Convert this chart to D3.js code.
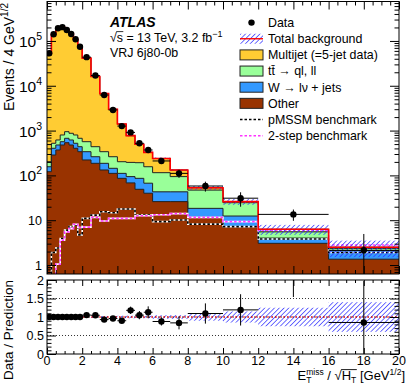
<!DOCTYPE html>
<html>
<head>
<meta charset="utf-8">
<script src="https://cdn.jsdelivr.net/npm/d3@7"></script>
<style>
  body { margin: 0; background: #fff; }
  text { font-family: "Liberation Sans", Arial, Helvetica, sans-serif; fill: #000; }
</style>
</head>
<body>
<svg id="chart" width="407" height="386"></svg>
<script>
// bin edges, ETmiss/sqrt(HT) in GeV^1/2
var binEdges = [0, 0.25, 0.5, 0.75, 1, 1.25, 1.5, 1.75, 2, 2.5, 3, 3.5, 4, 4.5, 5, 5.5, 6, 7, 8, 10, 12, 16, 20];

// data, events / 4 GeV^1/2
var dataVals = [53000, 141000, 192000, 203000, 176000, 143000, 109000, 74000, 43500, 16900, 6200, 2880, 1260, 910, 520, 369, 210, 111, 58, 31, 13.5, 2.13];
var dataErr = [300, 500, 600, 600, 550, 500, 450, 380, 300, 180, 110, 80, 60, 77, 55, 52, 26, 23, 14.5, 11, 3.8, 2.8];

// background components (stacked bottom to top: other, wjets, ttbar, multijet)
var other = [121, 285, 369, 477, 537, 477, 403, 338, 221, 186, 132, 111, 86, 68, 49, 40, 26, 26, 11.6, 7.2, 3.05, 1.35];
var wjets = [35, 118, 108, 88, 136, 140, 118, 99, 117, 75, 54, 33, 25, 26, 37, 27, 17, 17, 6.8, 5.2, 0.95, 0.75];
var ttbar = [46, 118, 140, 233, 272, 253, 277, 236, 227, 176, 152, 117, 91, 101, 106, 89, 72, 51, 28.6, 12.2, 1.5, 0.25];
var multijet = [52800, 140500, 191400, 202200, 175100, 142100, 108200, 73300, 40800, 15700, 6330, 2740, 1200, 576, 303, 171, 124, 38, 6, 1.4, 0.8, 0.15];
// relative uncertainty on the total background
var bkgRelUnc = [0.015, 0.015, 0.015, 0.015, 0.015, 0.015, 0.015, 0.015, 0.025, 0.025, 0.025, 0.025, 0.035, 0.035, 0.035, 0.035, 0.05, 0.05, 0.1, 0.15, 0.25, 0.4];

// signal benchmarks
var pmssm = [0.5, 1.9, 2.4, 3.9, 6.0, 7.2, 7.8, 4.7, 11, 13, 15.5, 14.7, 17.8, 17.8, 13, 13, 9.3, 10.1, 8.2, 7.2, 3.8, 1.9];
var twoStep = [0.3, 0.3, 1.05, 3.6, 5.5, 6.5, 8.1, 6.9, 7.0, 11.6, 9.6, 11, 11, 11, 12.6, 12.6, 13.2, 14, 11.6, 9.3, 6.0, 2.8];

// ticks
var xMajor = [0, 2, 4, 6, 8, 10, 12, 14, 16, 18, 20];
var logMajor = [1, 10, 100, 1000, 10000, 100000];
var ratioMajor = [0, 0.5, 1, 1.5, 2];

// colours
var colMultijet = '#ffcc33', colTtbar = '#99ff99', colW = '#3399ff', colOther = '#993300';

// panel geometry
var left = 47, right = 399;
var topY0 = 1.5, topY1 = 274;
var ratY0 = 280, ratY1 = 354;

var svg = d3.select('#chart');

var x = d3.scaleLinear().domain([0, 20]).range([left, right]);
var y = d3.scaleLog().domain([Math.pow(10, -0.2), Math.pow(10, 5.88)]).range([topY1, topY0]);
var yr = d3.scaleLinear().domain([0, 2]).range([ratY1, ratY0]);

var nBins = dataVals.length;
var bins = d3.range(nBins).map(function (i) {
  return { lo: binEdges[i], hi: binEdges[i + 1], mid: (binEdges[i] + binEdges[i + 1]) / 2 };
});

//build stack with d3
var rows = bins.map(function (b, i) {
  return { other: other[i], wjets: wjets[i], ttbar: ttbar[i], multijet: multijet[i] };
});
var stack = d3.stack().keys(['other', 'wjets', 'ttbar', 'multijet'])(rows);
var total = rows.map(function (r) { return r.other + r.wjets + r.ttbar + r.multijet; });

//defs: clips and hatch
var defs = svg.append('defs');
defs.append('clipPath').attr('id', 'clipTop').append('rect')
  .attr('x', left).attr('y', topY0).attr('width', right - left).attr('height', topY1 - topY0);
defs.append('clipPath').attr('id', 'clipRat').append('rect')
  .attr('x', left).attr('y', ratY0).attr('width', right - left).attr('height', ratY1 - ratY0);
var hatch = defs.append('pattern').attr('id', 'hatch')
  .attr('patternUnits', 'userSpaceOnUse').attr('width', 3.4).attr('height', 3.4)
  .attr('patternTransform', 'rotate(45)');
hatch.append('line').attr('x1', 0).attr('y1', 0).attr('x2', 0).attr('y2', 3.4)
  .attr('stroke', '#3030ff').attr('stroke-width', 1.4);

//helper: step points for a per-bin value array
function stepPts(vals, ys) {
  var pts = [];
  vals.forEach(function (v, i) {
    pts.push([x(bins[i].lo), ys(v)]);
    pts.push([x(bins[i].hi), ys(v)]);
  });
  return pts;
}
function safeLog(v) { return y(Math.max(v, 1e-3)); }

var line = d3.line();
var areaDown = d3.area().x(function (d) { return d[0]; }).y0(topY1 + 2).y1(function (d) { return d[1]; });

// ---------- top panel ----------
var gTop = svg.append('g').attr('clip-path', 'url(#clipTop)');

var stackCols = [colOther, colW, colTtbar, colMultijet];
//draw from the top cumulative down so lower components overlay
for (var s = stack.length - 1; s >= 0; s--) {
  var cum = stack[s].map(function (d) { return d[1]; });
  var pts = stepPts(cum, safeLog);
  gTop.append('path').attr('d', areaDown(pts)).attr('fill', stackCols[s]);
  gTop.append('path').attr('d', line(pts)).attr('fill', 'none').attr('stroke', '#222').attr('stroke-width', 1);
}

//signal benchmarks: white underlay + dashed line
function drawSignal(vals, col) {
  var pts = stepPts(vals, safeLog);
  gTop.append('path').attr('d', line(pts)).attr('fill', 'none').attr('stroke', '#fff').attr('stroke-width', 1.6);
  gTop.append('path').attr('d', line(pts)).attr('fill', 'none').attr('stroke', col)
    .attr('stroke-width', 1.6).attr('stroke-dasharray', '2.5,2');
}
drawSignal(pmssm, '#000');
drawSignal(twoStep, '#ff33ff');

//uncertainty band
gTop.selectAll('rect.band').data(bins).enter().append('rect')
  .attr('class', 'band')
  .attr('x', function (d) { return x(d.lo); })
  .attr('width', function (d) { return x(d.hi) - x(d.lo); })
  .attr('y', function (d, i) { return y(total[i] * (1 + bkgRelUnc[i])); })
  .attr('height', function (d, i) { return y(total[i] * (1 - bkgRelUnc[i])) - y(total[i] * (1 + bkgRelUnc[i])); })
  .attr('fill', 'url(#hatch)');

//total background line
gTop.append('path').attr('d', line(stepPts(total, safeLog)))
  .attr('fill', 'none').attr('stroke', '#ff0000').attr('stroke-width', 1.6);

//data points
function drawPoints(g, vals, errs, ys) {
  var pg = g.append('g');
  bins.forEach(function (b, i) {
    var v = vals[i], e = errs[i];
    var lo = v - e > 0 ? ys(v - e) : 1000;
    pg.append('line').attr('x1', x(b.mid)).attr('x2', x(b.mid))
      .attr('y1', ys(v + e)).attr('y2', lo).attr('stroke', '#000').attr('stroke-width', 1);
    pg.append('line').attr('x1', x(b.lo)).attr('x2', x(b.hi))
      .attr('y1', ys(v)).attr('y2', ys(v)).attr('stroke', '#000').attr('stroke-width', 1);
    pg.append('circle').attr('cx', x(b.mid)).attr('cy', ys(v)).attr('r', 3.2).attr('fill', '#000');
  });
}
drawPoints(gTop, dataVals, dataErr, y);

// ---------- ratio panel ----------
var gRat = svg.append('g').attr('clip-path', 'url(#clipRat)');
gRat.selectAll('rect.rband').data(bins).enter().append('rect')
  .attr('class', 'rband')
  .attr('x', function (d) { return x(d.lo); })
  .attr('width', function (d) { return x(d.hi) - x(d.lo); })
  .attr('y', function (d, i) { return yr(1 + bkgRelUnc[i]); })
  .attr('height', function (d, i) { return yr(1 - bkgRelUnc[i]) - yr(1 + bkgRelUnc[i]); })
  .attr('fill', 'url(#hatch)');

[0.5, 1, 1.5].forEach(function (v) {
  gRat.append('line').attr('x1', left).attr('x2', right).attr('y1', yr(v)).attr('y2', yr(v))
    .attr('stroke', '#000').attr('stroke-width', 0.8).attr('stroke-dasharray', '1,2');
});
gRat.append('line').attr('x1', left).attr('x2', right).attr('y1', yr(1)).attr('y2', yr(1))
  .attr('stroke', '#ff0000').attr('stroke-width', 1.2).attr('stroke-dasharray', '2,2');

var ratio = dataVals.map(function (v, i) { return v / total[i]; });
var ratioErr = dataErr.map(function (e, i) { return e / total[i]; });
drawPoints(gRat, ratio, ratioErr, function (v) { return yr(v); });

// ---------- frames and ticks ----------
function frame(y0, y1) {
  svg.append('rect').attr('x', left).attr('y', y0).attr('width', right - left).attr('height', y1 - y0)
    .attr('fill', 'none').attr('stroke', '#000').attr('stroke-width', 1);
}
frame(topY0, topY1);
frame(ratY0, ratY1);

function ticks(axis, transform) {
  var g = svg.append('g').attr('transform', transform).call(axis);
  g.select('.domain').remove();
  g.selectAll('line').attr('stroke', '#000');
}
var xMinor = d3.range(0, 20.01, 0.5).filter(function (v) { return v % 2 !== 0; });
[[topY0, 1], [topY1, -1], [ratY0, 1], [ratY1, -1]].forEach(function (p) {
  var big = p[0] >= ratY0 ? 6 : 8;
  ticks(d3.axisBottom(x).tickValues(xMajor).tickSize(p[1] * big).tickFormat(''), 'translate(0,' + p[0] + ')');
  ticks(d3.axisBottom(x).tickValues(xMinor).tickSize(p[1] * big / 2).tickFormat(''), 'translate(0,' + p[0] + ')');
});

var logMinor = [];
[0.1, 1, 10, 100, 1000, 10000, 100000].forEach(function (d) {
  for (var k = 2; k <= 9; k++) {
    var v = d * k;
    if (v > y.domain()[0] && v < y.domain()[1]) logMinor.push(v);
  }
});
ticks(d3.axisRight(y).tickValues(logMajor).tickSize(9).tickFormat(''), 'translate(' + left + ',0)');
ticks(d3.axisRight(y).tickValues(logMinor).tickSize(4.5).tickFormat(''), 'translate(' + left + ',0)');
ticks(d3.axisLeft(y).tickValues(logMajor).tickSize(9).tickFormat(''), 'translate(' + right + ',0)');
ticks(d3.axisLeft(y).tickValues(logMinor).tickSize(4.5).tickFormat(''), 'translate(' + right + ',0)');

var ratMinor = d3.range(0, 2.001, 0.1).filter(function (v) { return Math.abs(v * 2 - Math.round(v * 2)) > 1e-6; });
ticks(d3.axisRight(yr).tickValues(ratioMajor).tickSize(9).tickFormat(''), 'translate(' + left + ',0)');
ticks(d3.axisRight(yr).tickValues(ratMinor).tickSize(4.5).tickFormat(''), 'translate(' + left + ',0)');
ticks(d3.axisLeft(yr).tickValues(ratioMajor).tickSize(9).tickFormat(''), 'translate(' + right + ',0)');
ticks(d3.axisLeft(yr).tickValues(ratMinor).tickSize(4.5).tickFormat(''), 'translate(' + right + ',0)');

// ---------- tick labels ----------
xMajor.forEach(function (v) {
  svg.append('text').attr('x', x(v)).attr('y', 364.5).attr('text-anchor', 'middle')
    .style('font-size', '12.5px').text(v);
});
ratioMajor.forEach(function (v) {
  svg.append('text').attr('x', 44).attr('y', yr(v) + 4.5).attr('text-anchor', 'end')
    .style('font-size', '12.5px').text(v);
});
logMajor.forEach(function (v) {
  var k = Math.round(Math.log10(v));
  if (k < 2) {
    svg.append('text').attr('x', 42).attr('y', y(v) + 4.5).attr('text-anchor', 'end')
      .style('font-size', '12.5px').text(v);
  } else {
    var t = svg.append('text').attr('x', 42).attr('y', y(v) + 6).attr('text-anchor', 'end')
      .style('font-size', '15.5px');
    t.append('tspan').text('10');
    t.append('tspan').attr('dy', -7).style('font-size', '10.5px').text(k);
  }
});

// ---------- axis titles ----------
var yt = svg.append('text').attr('transform', 'translate(14,3) rotate(-90)')
  .attr('text-anchor', 'end').style('font-size', '14px');
yt.append('tspan').text('Events / 4 GeV');
yt.append('tspan').attr('dy', -6).style('font-size', '10px').text('1/2');

svg.append('text').attr('transform', 'translate(13,330) rotate(-90)')
  .attr('text-anchor', 'middle').style('font-size', '13.5px').text('Data / Prediction');

//x title: E_T^miss / sqrt(H_T) [GeV^1/2]
var xt = svg.append('text').attr('x', 405).attr('y', 379.5).attr('text-anchor', 'end').style('font-size', '13px');
xt.append('tspan').text('E');
xt.append('tspan').attr('dy', 3.5).style('font-size', '8.5px').text('T');
xt.append('tspan').attr('dx', -5.2).attr('dy', -8.5).style('font-size', '8.5px').text('miss');
xt.append('tspan').attr('dy', 5).text(' / ');
xt.append('tspan').text('\u221A');
xt.append('tspan').text('H');
xt.append('tspan').attr('dy', 3.5).style('font-size', '8.5px').text('T');
xt.append('tspan').attr('dy', -3.5).text(' [GeV');
xt.append('tspan').attr('dy', -4.5).style('font-size', '8.5px').text('1/2');
xt.append('tspan').attr('dy', 4.5).text(']');
//overline for the square root
var xn = xt.node();
var rs = xn.getExtentOfChar(9), rt = xn.getExtentOfChar(11);
svg.append('line').attr('x1', rs.x + rs.width - 0.6).attr('x2', rt.x + rt.width + 0.5)
  .attr('y1', 369.6).attr('y2', 369.6).attr('stroke', '#000').attr('stroke-width', 0.9);

// ---------- ATLAS label ----------
svg.append('text').attr('x', 110).attr('y', 26.5).style('font-size', '14px')
  .style('font-weight', 'bold').style('font-style', 'italic').text('ATLAS');
var lum = svg.append('text').attr('x', 110).attr('y', 41.5).style('font-size', '12.4px');
lum.append('tspan').text('\u221As = 13 TeV, 3.2 fb');
lum.append('tspan').attr('dy', -5).style('font-size', '9px').text('\u22121');
var ln = lum.node();
var rq = ln.getExtentOfChar(0), rsc = ln.getExtentOfChar(1);
svg.append('line').attr('x1', rq.x + rq.width - 0.6).attr('x2', rsc.x + rsc.width + 0.3)
  .attr('y1', 31.6).attr('y2', 31.6).attr('stroke', '#000').attr('stroke-width', 0.8);
svg.append('text').attr('x', 110).attr('y', 57).style('font-size', '12.4px').text('VRJ 6j80-0b');

// ---------- legend ----------
var legItems = [
  { label: 'Data', type: 'point' },
  { label: 'Total background', type: 'band' },
  { label: 'Multijet (=5-jet data)', type: 'box', col: colMultijet },
  { label: 'tt\u0304 \u2192 ql, ll', type: 'box', col: colTtbar },
  { label: 'W \u2192 l\u03BD + jets', type: 'box', col: colW },
  { label: 'Other', type: 'box', col: colOther },
  { label: 'pMSSM benchmark', type: 'line', col: '#000' },
  { label: '2-step benchmark', type: 'line', col: '#ff33ff' }
];
var leg = svg.append('g');
legItems.forEach(function (it, i) {
  var cy = 22.6 + i * 16.15;
  if (it.type === 'point') {
    leg.append('circle').attr('cx', 251.5).attr('cy', cy).attr('r', 3.2).attr('fill', '#000');
  } else if (it.type === 'band') {
    leg.append('rect').attr('x', 240).attr('y', cy - 5).attr('width', 23).attr('height', 10).attr('fill', 'url(#hatch)');
    leg.append('line').attr('x1', 240).attr('x2', 263).attr('y1', cy).attr('y2', cy)
      .attr('stroke', '#ff0000').attr('stroke-width', 1.4);
  } else if (it.type === 'box') {
    leg.append('rect').attr('x', 240).attr('y', cy - 5).attr('width', 23).attr('height', 10)
      .attr('fill', it.col).attr('stroke', '#222').attr('stroke-width', 1);
  } else {
    leg.append('line').attr('x1', 240).attr('x2', 263).attr('y1', cy).attr('y2', cy)
      .attr('stroke', it.col).attr('stroke-width', 1.5).attr('stroke-dasharray', '2.5,2');
  }
  leg.append('text').attr('x', 268).attr('y', cy + 4.4).style('font-size', '12.4px').text(it.label);
});
</script>
</body>
</html>
